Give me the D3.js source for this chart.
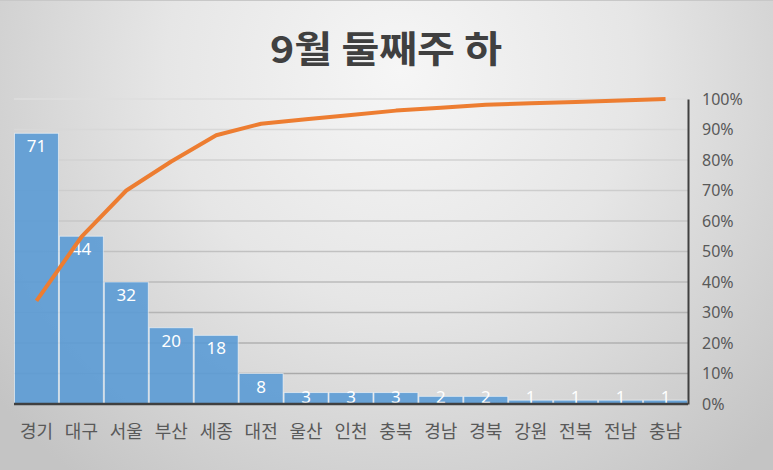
<!DOCTYPE html>
<html><head><meta charset="utf-8">
<script src="https://cdn.jsdelivr.net/npm/d3@7"></script>
<style>html,body{margin:0;padding:0;overflow:hidden;background:#fff}</style>
</head><body>
<script>
const title = "9월 둘째주 하";
const categories = ["경기","대구","서울","부산","세종","대전","울산","인천","충북","경남","경북","강원","전북","전남","충남"];
const counts = [71,44,32,20,18,8,3,3,3,2,2,1,1,1,1];
const pctTicks = [0,0.1,0.2,0.3,0.4,0.5,0.6,0.7,0.8,0.9,1.0];
const countMax = 80;

const W = 773, H = 470;
const m = {left:14, right:85, top:99, bottom:66};
const total = d3.sum(counts);
let acc = 0;
const cumulative = counts.map(v => (acc += v) / total);

const svg = d3.select("body").append("svg").attr("width", W).attr("height", H);
const defs = svg.append("defs");
const rg = defs.append("radialGradient").attr("id","bg")
  .attr("gradientUnits","userSpaceOnUse").attr("cx",400).attr("cy",70).attr("r",520);
rg.append("stop").attr("offset","0").attr("stop-color","#f6f6f6");
rg.append("stop").attr("offset","0.45").attr("stop-color","#e6e6e6");
rg.append("stop").attr("offset","1").attr("stop-color","#c4c4c4");
svg.append("rect").attr("width",W).attr("height",H).attr("fill","url(#bg)");
svg.append("line").attr("x1",0).attr("x2",W).attr("y1",0.5).attr("y2",0.5).attr("stroke","#c8c8c8");

const x = d3.scaleBand().domain(categories).range([m.left, W - m.right]).padding(0);
const y = d3.scaleLinear().domain([0, countMax]).range([H - m.bottom, m.top]);
const yp = d3.scaleLinear().domain([0, 1]).range([H - m.bottom, m.top]);

// gridlines
const gridColor = d3.scaleLinear().domain([m.top, H - m.bottom]).range(["#dedede","#a4a4a4"]);
svg.append("g").selectAll("line").data(pctTicks.filter(t => t > 0)).join("line")
  .attr("x1", m.left).attr("x2", W - m.right)
  .attr("y1", d => yp(d)).attr("y2", d => yp(d))
  .attr("stroke", d => gridColor(yp(d))).attr("stroke-width", 1.5);

// bars
svg.append("g").selectAll("rect").data(counts).join("rect")
  .attr("x", (d,i) => x(categories[i]) + 0.5)
  .attr("width", x.bandwidth() - 1)
  .attr("y", d => y(d))
  .attr("height", d => y(0) - y(d))
  .attr("fill", "#5b9bd5").attr("fill-opacity", 0.9)
  .attr("stroke", "rgba(255,255,255,0.55)").attr("stroke-width", 1);

// data labels
svg.append("g").selectAll("text").data(counts).join("text")
  .attr("x", (d,i) => x(categories[i]) + x.bandwidth()/2)
  .attr("y", d => Math.min(y(d) + 13, y(0) - 7))
  .attr("dy", "0.36em")
  .attr("text-anchor", "middle")
  .attr("fill", "#ffffff")
  .attr("font-family", "'Noto Sans', 'Liberation Sans', sans-serif")
  .attr("font-size", 17)
  .text(d => d);

// baseline
svg.append("line").attr("x1", m.left).attr("x2", W - m.right)
  .attr("y1", y(0)).attr("y2", y(0)).attr("stroke", "#404040").attr("stroke-width", 2.5);

// right axis
const axR = d3.axisRight(yp).tickValues(pctTicks).tickFormat(d3.format(".0%")).tickSize(0).tickPadding(14);
const gR = svg.append("g").attr("transform", `translate(${W - m.right},0)`).call(axR);
gR.select(".domain").attr("stroke", "#404040").attr("stroke-width", 2);
gR.selectAll("text").attr("fill", "#595959").attr("font-size", 16)
  .attr("font-family", "'Noto Sans', 'Liberation Sans', sans-serif");

// bottom axis labels
const axB = d3.axisBottom(x).tickSize(0).tickPadding(21);
const gB = svg.append("g").attr("transform", `translate(0,${y(0)})`).call(axB);
gB.select(".domain").remove();
gB.selectAll("text").attr("fill", "#595959").attr("font-size", 18)
  .attr("font-family", "'Noto Sans CJK KR', sans-serif");

// cumulative line
const line = d3.line().x((d,i) => x(categories[i]) + x.bandwidth()/2).y(d => yp(d));
svg.append("path").datum(cumulative).attr("d", line)
  .attr("fill", "none").attr("stroke", "#ed7d31").attr("stroke-width", 4)
  .attr("stroke-linejoin", "round").attr("stroke-linecap", "butt");

// title
svg.append("text").attr("x", 386).attr("y", 63).attr("text-anchor", "middle")
  .attr("font-family", "'Noto Sans CJK KR', sans-serif").attr("font-weight", "bold")
  .attr("font-size", 37).attr("fill", "#404040")
  .attr("textLength", 232).attr("lengthAdjust", "spacingAndGlyphs").text(title);
</script>
</body></html>
